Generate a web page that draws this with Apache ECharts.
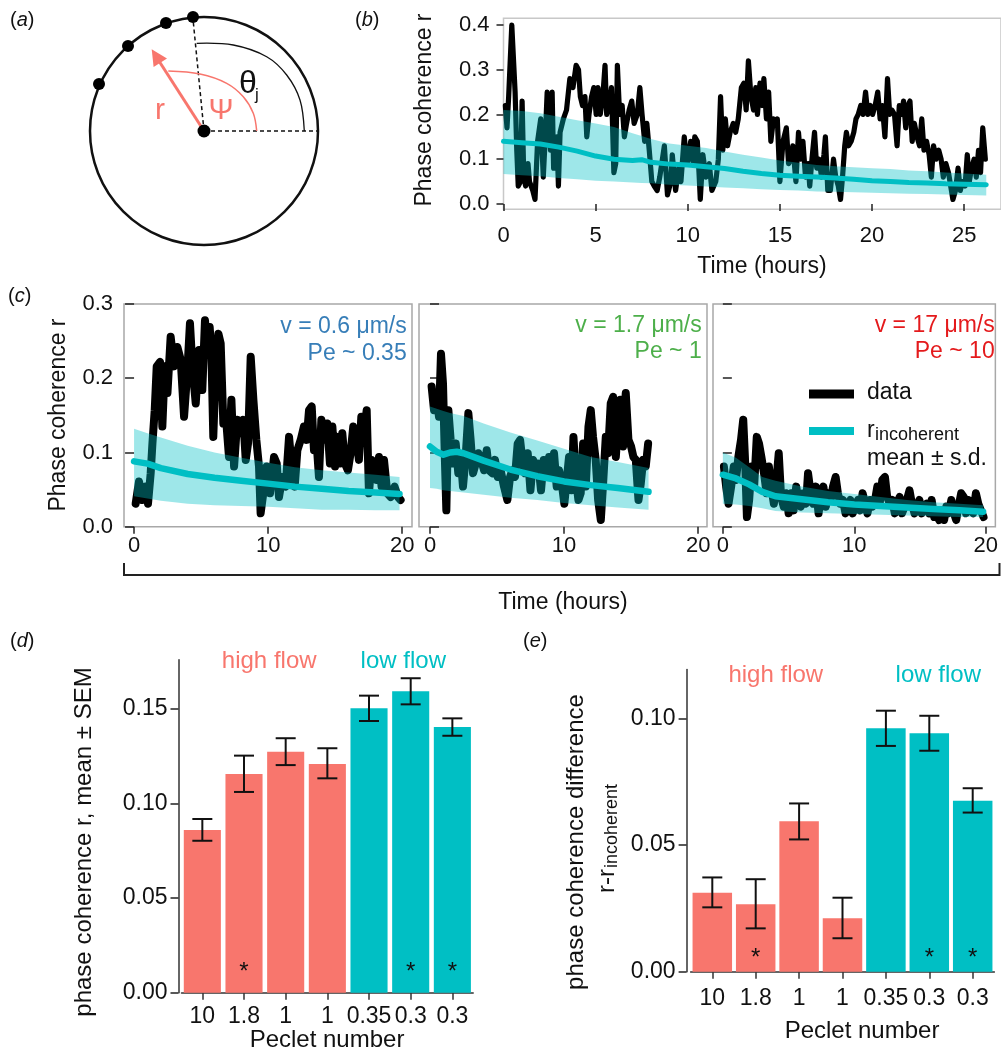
<!DOCTYPE html>
<html><head><meta charset="utf-8">
<script src="https://cdn.jsdelivr.net/npm/echarts@6/dist/echarts.min.js"></script>
<style>html,body{margin:0;padding:0;background:#fff}#c{width:1001px;height:1052px}</style>
</head><body><div id="c"></div>
<script>
// ---------- DATA ----------
// (b) phase coherence time series
const bTime = [0.10,0.19,0.28,0.45,0.63,0.72,0.80,0.92,1.01,1.10,1.20,1.33,1.41,1.59,1.71,1.85,2.02,2.16,2.29,2.37,
2.46,2.55,2.64,2.72,2.90,2.98,3.07,3.25,3.42,3.60,3.77,3.94,4.07,4.17,4.29,4.42,4.52,4.64,4.78,4.90,
5.03,5.13,5.25,5.39,5.51,5.60,5.74,5.86,5.99,6.09,6.18,6.30,6.44,6.56,6.68,6.82,6.96,7.09,7.26,7.40,
7.52,7.66,7.78,7.91,8.05,8.18,8.34,8.48,
8.73,8.90,9.08,9.16,9.34,9.51,9.63,9.81,9.95,10.03,10.16,10.30,10.38,10.52,10.61,10.68,10.82,10.99,11.17,11.31,
11.52,11.66,11.78,11.90,12.04,12.16,12.30,12.47,12.60,12.74,12.91,13.05,13.17,13.29,13.43,13.57,13.69,13.78,13.92,14.04,
14.13,14.27,14.39,14.51,14.65,14.79,14.86,15.00,15.17,15.35,15.47,15.61,15.70,15.87,16.01,16.13,16.25,16.39,16.53,16.62,
16.74,16.88,17.00,17.13,17.26,
17.39,17.47,17.60,17.74,17.91,18.03,18.17,18.29,18.40,18.52,18.61,18.73,18.87,19.01,19.13,19.25,19.39,19.51,19.65,19.77,
19.91,20.03,20.17,20.31,20.44,20.56,20.70,20.84,20.96,21.08,21.22,21.36,21.48,21.60,21.71,21.83,21.95,22.06,22.18,22.30,
22.44,22.58,22.70,22.82,22.96,23.10,23.22,23.34,23.48,23.62,23.75,23.87,24.01,24.15,24.27,24.39,24.53,24.67,24.79,24.91,
25.05,25.17,25.28,25.40,25.54,25.66,25.78,25.89,26.01,26.15];
const bR = [0.22,0.17,0.24,0.40,0.25,0.12,0.04,0.05,0.23,0.06,0.04,0.09,0.05,0.03,0.01,0.14,0.19,0.06,0.17,0.25,
0.25,0.12,0.25,0.08,0.15,0.04,0.16,0.19,0.21,0.28,0.26,0.31,0.30,0.24,0.22,0.24,0.15,0.20,0.24,0.26,
0.20,0.26,0.20,0.24,0.31,0.20,0.22,0.26,0.07,0.09,0.31,0.20,0.22,0.15,0.18,0.21,0.23,0.18,0.20,0.26,
0.20,0.14,0.18,0.12,0.05,0.04,0.03,0.06,
0.13,0.02,0.05,0.11,0.03,0.08,0.05,0.15,0.09,0.10,0.14,0.09,0.15,0.14,0.07,0.01,0.11,0.06,0.09,0.03,
0.05,0.10,0.24,0.12,0.19,0.13,0.16,0.18,0.16,0.19,0.26,0.27,0.21,0.32,0.24,0.21,0.26,0.20,0.27,0.22,
0.28,0.19,0.25,0.14,0.19,0.18,0.19,0.05,0.14,0.17,0.09,0.10,0.13,0.05,0.16,0.10,0.14,0.06,0.09,0.04,
0.10,0.16,0.08,0.10,0.06,
0.11,0.15,0.03,0.03,0.10,0.06,0.04,0.01,0.06,0.13,0.16,0.13,0.14,0.16,0.19,0.20,0.22,0.20,0.25,0.20,
0.22,0.20,0.22,0.25,0.19,0.22,0.15,0.28,0.20,0.21,0.20,0.13,0.22,0.20,0.23,0.17,0.22,0.23,0.14,0.18,
0.15,0.13,0.19,0.12,0.14,0.11,0.06,0.13,0.10,0.12,0.10,0.06,0.09,0.07,0.04,0.01,0.03,0.08,0.03,0.05,
0.04,0.11,0.05,0.08,0.10,0.06,0.12,0.07,0.17,0.10];
// (b) r_incoherent mean and +/- s.d.
const bBandT = [0,1,2,3,4,5,6,7,7.5,8,9,10,11,12,13,14,15,16,17,18,19,20,21,22,23,24,25,26.2];
const bMean  = [0.140,0.137,0.134,0.127,0.118,0.107,0.100,0.097,0.099,0.093,0.089,0.087,0.083,0.079,0.073,0.068,0.064,0.062,0.060,0.058,0.055,0.052,0.050,0.048,0.047,0.045,0.044,0.043];
const bHi    = [0.210,0.208,0.203,0.195,0.187,0.180,0.172,0.158,0.152,0.145,0.135,0.130,0.125,0.117,0.110,0.104,0.097,0.092,0.087,0.084,0.082,0.080,0.078,0.075,0.073,0.070,0.068,0.065];
const bLo    = [0.067,0.064,0.062,0.058,0.055,0.052,0.050,0.048,0.047,0.046,0.043,0.041,0.039,0.037,0.035,0.033,0.031,0.030,0.028,0.027,0.026,0.025,0.024,0.023,0.022,0.021,0.020,0.019];

// (c) left: v = 0.6 um/s
const c1Time = [0.12,0.37,0.62,0.87,1.04,1.24,1.37,1.54,1.69,1.94,2.11,2.29,2.49,2.73,2.98,3.23,3.48,3.73,3.98,4.17,
4.35,4.60,4.85,5.09,5.29,5.47,5.64,5.77,5.91,6.09,6.29,6.46,6.66,6.83,7.08,7.26,7.46,7.70,7.95,8.15,
8.33,8.50,8.70,8.90,9.12,9.32,9.44,9.64,9.89,10.14,10.44,10.64,10.81,11.06,11.31,11.56,11.80,11.98,12.18,12.43,
12.67,12.87,13.05,13.25,13.42,13.62,13.79,13.97,14.16,14.41,14.61,14.79,14.99,15.16,15.36,15.53,15.73,15.95,16.15,16.35,
16.53,16.77,16.95,17.15,17.35,17.52,17.72,17.89,18.09,18.27,18.46,18.64,18.89,19.14,19.43,19.68,19.88];
const c1R = [0.031,0.061,0.036,0.054,0.031,0.072,0.112,0.157,0.216,0.222,0.135,0.216,0.180,0.256,0.216,0.242,0.225,0.148,0.211,0.274,
0.216,0.166,0.238,0.184,0.278,0.233,0.269,0.233,0.121,0.216,0.260,0.247,0.139,0.153,0.094,0.171,0.081,0.144,0.126,0.144,
0.090,0.112,0.229,0.171,0.117,0.081,0.018,0.045,0.081,0.045,0.094,0.085,0.040,0.067,0.054,0.121,0.072,0.054,0.103,0.117,
0.135,0.117,0.157,0.162,0.103,0.112,0.067,0.144,0.117,0.139,0.085,0.135,0.081,0.121,0.085,0.126,0.085,0.076,0.099,0.135,
0.126,0.090,0.148,0.126,0.157,0.045,0.090,0.072,0.063,0.094,0.054,0.090,0.045,0.040,0.054,0.040,0.036];
const c1BandT = [0,1,2,4,6,8,10,12,14,16,18,19.8];
const c1Mean  = [0.088,0.085,0.079,0.071,0.066,0.062,0.058,0.054,0.051,0.048,0.046,0.044];
const c1Hi    = [0.132,0.126,0.120,0.109,0.100,0.093,0.086,0.080,0.076,0.073,0.070,0.067];
const c1Lo    = [0.041,0.038,0.035,0.031,0.029,0.028,0.027,0.025,0.023,0.023,0.022,0.022];

// (c) middle: v = 1.7 um/s
const c2Time = [0.12,0.30,0.47,0.67,0.82,0.97,1.12,1.22,1.37,1.54,1.72,1.92,2.11,2.29,2.46,2.66,2.86,3.03,3.21,3.41,
3.61,3.81,4.03,4.23,4.40,4.65,4.85,5.05,5.27,5.52,5.77,5.97,6.14,6.34,6.54,6.72,6.92,7.09,7.29,7.49,
7.69,7.89,8.08,8.28,8.48,8.68,8.88,9.08,9.25,9.45,9.63,9.83,10.02,10.20,10.37,10.55,10.70,10.87,11.07,11.24,
11.42,11.62,11.82,11.99,12.16,12.36,12.54,12.74,12.91,13.11,13.28,13.48,13.66,13.86,14.03,14.20,14.40,14.60,14.80,15.00,
15.17,15.35,15.55,15.72,15.90,16.09,16.27];
const c2R = [0.189,0.157,0.180,0.148,0.233,0.193,0.085,0.022,0.157,0.117,0.085,0.112,0.072,0.094,0.054,0.094,0.153,0.117,0.072,0.085,
0.099,0.090,0.076,0.103,0.076,0.072,0.090,0.067,0.076,0.054,0.036,0.067,0.076,0.067,0.112,0.117,0.085,0.072,0.099,0.049,
0.090,0.072,0.085,0.049,0.090,0.067,0.094,0.072,0.099,0.054,0.076,0.058,0.031,0.063,0.094,0.049,0.121,0.067,0.036,0.045,
0.112,0.054,0.135,0.157,0.121,0.090,0.036,0.009,0.058,0.121,0.099,0.166,0.175,0.094,0.139,0.171,0.108,0.180,0.117,0.108,
0.094,0.090,0.036,0.058,0.090,0.081,0.112];
const c2BandT = [0,0.5,1,1.5,2,2.5,4,6,8,10,12,14,16.3];
const c2Mean  = [0.108,0.101,0.097,0.100,0.101,0.099,0.089,0.077,0.068,0.061,0.056,0.052,0.047];
const c2Hi    = [0.162,0.159,0.156,0.153,0.151,0.149,0.139,0.127,0.116,0.105,0.094,0.087,0.079];
const c2Lo    = [0.052,0.051,0.049,0.048,0.047,0.046,0.043,0.039,0.036,0.032,0.029,0.026,0.023];

// (c) right: v = 17 um/s
const c3Time = [0.08,0.25,0.43,0.63,0.83,1.00,1.18,1.38,1.55,1.70,1.83,2.00,2.18,2.38,2.58,2.75,2.93,3.13,3.33,3.50,
3.68,3.88,4.08,4.25,4.43,4.63,4.83,5.00,5.20,5.38,5.58,5.75,5.93,6.13,6.33,6.48,6.68,6.88,7.08,7.28,
7.45,7.65,7.83,8.03,8.20,8.38,8.58,8.75,8.93,9.13,9.33,9.50,9.70,9.88,10.08,10.28,10.45,10.63,10.83,11.00,
11.20,11.38,11.58,11.75,11.93,12.13,12.33,12.50,12.70,12.88,13.08,13.25,13.45,13.63,13.83,14.00,14.20,14.38,14.58,14.75,
14.95,15.13,15.33,15.50,15.70,15.88,16.08,16.25,16.45,16.63,16.83,17.00,17.18,17.38,17.58,17.75,17.93,18.13,18.33,18.50,
18.68,18.88,19.05,19.25,19.43,19.63,19.83];
const c3R = [0.081,0.054,0.031,0.054,0.081,0.063,0.094,0.117,0.144,0.085,0.013,0.036,0.081,0.054,0.121,0.112,0.094,0.072,0.045,0.081,
0.054,0.031,0.063,0.099,0.040,0.027,0.045,0.018,0.045,0.022,0.054,0.036,0.027,0.045,0.031,0.072,0.045,0.031,0.054,0.018,
0.040,0.054,0.027,0.045,0.036,0.054,0.067,0.045,0.031,0.036,0.018,0.027,0.036,0.018,0.027,0.036,0.022,0.045,0.031,0.018,
0.036,0.027,0.036,0.054,0.031,0.063,0.067,0.040,0.031,0.036,0.018,0.031,0.040,0.018,0.027,0.036,0.049,0.031,0.018,0.027,
0.036,0.018,0.027,0.031,0.018,0.036,0.013,0.018,0.009,0.022,0.009,0.027,0.018,0.036,0.018,0.009,0.027,0.045,0.040,0.018,
0.036,0.022,0.018,0.045,0.031,0.022,0.013];
const c3BandT = [0,1,2,3,4,6,8,10,12,14,16,18,19.8];
const c3Mean  = [0.070,0.065,0.057,0.047,0.041,0.037,0.033,0.030,0.028,0.026,0.024,0.022,0.020];
const c3Hi    = [0.100,0.093,0.080,0.067,0.062,0.054,0.048,0.044,0.040,0.036,0.033,0.031,0.029];
const c3Lo    = [0.031,0.030,0.028,0.025,0.021,0.019,0.018,0.017,0.016,0.015,0.014,0.013,0.013];

// (d),(e) bar charts
const peclet = ['10','1.8','1','1','0.35','0.3','0.3'];
const flow   = ['high','high','high','high','low','low','low'];
const dMean = [0.0860,0.1156,0.1274,0.1209,0.1503,0.1593,0.1404];
const dLo   = [0.0803,0.1061,0.1203,0.1133,0.1436,0.1524,0.1358];
const dHi   = [0.0918,0.1253,0.1345,0.1292,0.1570,0.1662,0.1450];
const eMean = [0.0312,0.0266,0.0594,0.0211,0.0961,0.0941,0.0675];
const eLo   = [0.0254,0.0171,0.0522,0.0132,0.0891,0.0872,0.0628];
const eHi   = [0.0372,0.0365,0.0664,0.0292,0.1030,0.1010,0.0724];
const starIdx = [1,5,6];
const dStarY = 0.0134, eStarY = 0.0073;

// tick labels
const bXTicks = [0,5,10,15,20,25];
const bYTicks = [0,0.1,0.2,0.3,0.4];
const cXTicks = [0,10,20];
const cYTicks = [0,0.1,0.2,0.3];
const dYTicks = [0,0.05,0.10,0.15];
const eYTicks = [0,0.05,0.10];

// ---------- STYLE ----------
const FONT = 'Liberation Sans, Arial, Helvetica, sans-serif';
const SALMON = '#F8766D', TEAL = '#00BFC4', BAND = 'rgba(0,191,196,0.38)';
const INK = '#111';
const flowColor = f => f === 'high' ? SALMON : TEAL;

const chart = echarts.init(document.getElementById('c'), null, {renderer:'canvas', width:1001, height:1052});

function pairs(t, v){ return t.map((x,i)=>[x, v[i]]); }
function dataLine(gi, t, v, w){
  return {type:'line', xAxisIndex:gi, yAxisIndex:gi, data:pairs(t,v), symbol:'none', silent:true, z:2,
    lineStyle:{color:'#000', width:w, join:'round', cap:'round'}};
}
// mean +/- s.d. band as one polygon through the axis scales
function band(gi, t, lo, hi){
  return {type:'custom', xAxisIndex:gi, yAxisIndex:gi, silent:true, z:3, clip:true,
    data: t.map((x,i)=>[x, lo[i], hi[i]]), encode:{x:0, y:[1,2]},
    renderItem:(p, api)=>{
      if (p.dataIndex !== 0) return null;
      const top = t.map((x,i)=>api.coord([x, hi[i]]));
      const bot = t.map((x,i)=>api.coord([x, lo[i]])).reverse();
      return {type:'polygon', shape:{points: top.concat(bot)}, style:{fill:BAND}};
    }};
}
function meanLine(gi, t, m, w){
  return {type:'line', xAxisIndex:gi, yAxisIndex:gi, data:pairs(t,m), symbol:'none', silent:true, z:4,
    lineStyle:{color:TEAL, width:w, join:'round', cap:'round'}};
}
function errBars(gi, lo, hi){
  return {type:'custom', xAxisIndex:gi, yAxisIndex:gi, silent:true, z:5,
    data: lo.map((v,i)=>[i, v, hi[i]]), encode:{x:0, y:[1,2]},
    renderItem:(p, api)=>{
      const a = api.coord([api.value(0), api.value(1)]);
      const b = api.coord([api.value(0), api.value(2)]);
      const hw = 10, st = {stroke:INK, lineWidth:2};
      return {type:'group', children:[
        {type:'line', shape:{x1:a[0], y1:a[1], x2:b[0], y2:b[1]}, style:st},
        {type:'line', shape:{x1:a[0]-hw, y1:a[1], x2:a[0]+hw, y2:a[1]}, style:st},
        {type:'line', shape:{x1:b[0]-hw, y1:b[1], x2:b[0]+hw, y2:b[1]}, style:st}
      ]};
    }};
}
function stars(gi, yv){
  return {type:'custom', xAxisIndex:gi, yAxisIndex:gi, silent:true, z:6,
    data: starIdx.map(i=>[i, yv]), encode:{x:0, y:1},
    renderItem:(p, api)=>{
      const c = api.coord([api.value(0), api.value(1)]);
      return {type:'text', x:c[0], y:c[1]+5, style:{text:'*', fontSize:24, fontFamily:FONT, fill:INK, align:'center', verticalAlign:'middle'}};
    }};
}
function bars(gi, vals, gap){
  return {type:'bar', xAxisIndex:gi, yAxisIndex:gi, silent:true, z:2, barCategoryGap:gap,
    data: vals.map((v,i)=>({value:v, itemStyle:{color:flowColor(flow[i])}}))};
}

function valX(gi, min, max, ticks, margin){
  return {type:'value', gridIndex:gi, min, max, splitLine:{show:false}, axisLine:{show:false},
    axisTick:{show:true, length:7, lineStyle:{color:'#222', width:1.5}, customValues:ticks},
    axisLabel:{customValues:ticks, fontSize:22, color:INK, fontFamily:FONT, margin}};
}
function valY(gi, min, max, ticks, opts){
  const o = Object.assign({label:true, inside:false, len:7, margin:12, fs:22, dec:1, line:false, offset:0}, opts||{});
  return {type:'value', gridIndex:gi, min, max, offset:o.offset, splitLine:{show:false},
    axisLine:{show:o.line, lineStyle:{color:'#333', width:1.5}},
    axisTick:{show:true, inside:o.inside, length:o.len, lineStyle:{color:'#222', width:1.5}, customValues:ticks},
    axisLabel:{show:o.label, customValues:ticks, fontSize:o.fs, color:INK, fontFamily:FONT, margin:o.margin,
      formatter:v=>Number(v).toFixed(o.dec)}};
}
function catX(gi, margin){
  return {type:'category', gridIndex:gi, data:peclet,
    axisLine:{show:true, lineStyle:{color:'#333', width:1.5}},
    axisTick:{show:true, alignWithLabel:true, length:7, lineStyle:{color:'#333', width:1.5}},
    axisLabel:{fontSize:23, color:INK, fontFamily:FONT, margin, interval:0}};
}

const boxB = {show:true, borderColor:'#c8c8c8', borderWidth:1.5, backgroundColor:'transparent'};
const boxC = {show:true, borderColor:'#a8a8a8', borderWidth:1.5, backgroundColor:'transparent'};

// ---------- GRAPHIC (panel a schematic, annotations, titles) ----------
function txt(x, y, text, o){
  o = o || {};
  return {type:'text', x, y, rotation:o.rot||0, silent:true, z:100,
    style:Object.assign({text, fontSize:o.fs||22, fontFamily:FONT, fill:o.color||INK, align:o.align||'center', verticalAlign:'middle'}, o.extra||{})};
}
function panelLabel(x, y, letter){
  return {type:'text', x, y, silent:true, z:100,
    style:{text:'({i|'+letter+'})', fontSize:20, fontFamily:FONT, fill:INK, align:'left', verticalAlign:'middle',
      rich:{i:{fontStyle:'italic', fontSize:20, fontFamily:FONT, fill:INK}}}};
}
const ROT = Math.PI/2;
const graphics = [
  panelLabel(10,20,'a'), panelLabel(355,20,'b'), panelLabel(8,296,'c'), panelLabel(10,641,'d'), panelLabel(523,641,'e'),
  // panel (a)
  {type:'circle', silent:true, shape:{cx:204, cy:131, r:114}, style:{fill:'none', stroke:INK, lineWidth:2.5}},
  {type:'line', silent:true, shape:{x1:204, y1:131, x2:318, y2:131}, style:{stroke:INK, lineWidth:1.5, lineDash:[4,3]}},
  {type:'line', silent:true, shape:{x1:204, y1:131, x2:193, y2:19}, style:{stroke:INK, lineWidth:1.5, lineDash:[4,3]}},
  {type:'polyline', silent:true, shape:{points:[[196.7,43.3],[233.3,45],[266.7,56.7],[286.7,75],[300,100],[304.3,131]], smooth:0.35},
    style:{stroke:INK, lineWidth:1.3, fill:null}},
  {type:'polyline', silent:true, shape:{points:[[168.3,71],[200,74],[226.7,83.3],[243.3,96.7],[253.3,113.3],[256.7,131]], smooth:0.35},
    style:{stroke:SALMON, lineWidth:1.5, fill:null}},
  {type:'line', silent:true, shape:{x1:204, y1:131, x2:159, y2:61}, style:{stroke:SALMON, lineWidth:3}},
  {type:'polygon', silent:true, shape:{points:[[151.7,49.3],[167.0,58.5],[153.6,67.1]]}, style:{fill:SALMON}},
  {type:'circle', silent:true, shape:{cx:204, cy:131, r:6.5}, style:{fill:'#000'}},
  {type:'circle', silent:true, shape:{cx:193, cy:17, r:6}, style:{fill:'#000'}},
  {type:'circle', silent:true, shape:{cx:166, cy:23, r:6}, style:{fill:'#000'}},
  {type:'circle', silent:true, shape:{cx:128, cy:46, r:6}, style:{fill:'#000'}},
  {type:'circle', silent:true, shape:{cx:99, cy:84, r:6}, style:{fill:'#000'}},
  txt(160, 111, 'r', {fs:30, color:SALMON}),
  txt(221, 111, 'Ψ', {fs:30, color:SALMON}),
  txt(248, 84, 'θ', {fs:32}),
  txt(257, 95, 'j', {fs:17}),
  // panel (b) titles
  txt(425, 110, 'Phase coherence r', {fs:23, rot:ROT}),
  txt(762, 267, 'Time (hours)', {fs:23}),
  // panel (c) titles & annotations
  txt(59, 415, 'Phase coherence r', {fs:23, rot:ROT}),
  txt(563, 603, 'Time (hours)', {fs:23}),
  {type:'polyline', silent:true, shape:{points:[[124,563],[124,575],[999.5,575],[999.5,563]]}, style:{stroke:'#222', lineWidth:2, fill:null}},
  txt(406.7, 327, 'v = 0.6 μm/s', {fs:23, color:'#377EB8', align:'right'}),
  txt(406.7, 354, 'Pe ~ 0.35', {fs:23, color:'#377EB8', align:'right'}),
  txt(701.7, 326, 'v = 1.7 μm/s', {fs:23, color:'#4DAF4A', align:'right'}),
  txt(701.7, 352, 'Pe ~ 1', {fs:23, color:'#4DAF4A', align:'right'}),
  txt(994.7, 326, 'v = 17 μm/s', {fs:23, color:'#E41A1C', align:'right'}),
  txt(994.7, 352, 'Pe ~ 10', {fs:23, color:'#E41A1C', align:'right'}),
  {type:'line', silent:true, shape:{x1:809, y1:394, x2:854, y2:394}, style:{stroke:'#000', lineWidth:9}},
  {type:'line', silent:true, shape:{x1:809, y1:431, x2:854, y2:431}, style:{stroke:TEAL, lineWidth:8}},
  txt(867, 392.5, 'data', {fs:23, align:'left'}),
  txt(867, 431, 'r', {fs:23, align:'left'}),
  txt(875, 435.5, 'incoherent', {fs:18, align:'left'}),
  txt(867, 459, 'mean ± s.d.', {fs:23, align:'left'}),
  // panel (d)
  txt(84, 842, 'phase coherence r, mean ± SEM', {fs:24, rot:ROT}),
  txt(327, 1040, 'Peclet number', {fs:24}),
  txt(269.2, 661, 'high flow', {fs:24, color:SALMON}),
  txt(403.3, 661, 'low flow', {fs:24, color:TEAL}),
  // panel (e)
  txt(576.7, 842, 'phase coherence difference', {fs:24, rot:ROT}),
  txt(607, 881, 'r-r', {fs:24, rot:ROT}),
  txt(612, 826, 'incoherent', {fs:18, rot:ROT}),
  txt(862, 1031, 'Peclet number', {fs:24}),
  txt(775.8, 675, 'high flow', {fs:24, color:SALMON}),
  txt(938.3, 675, 'low flow', {fs:24, color:TEAL})
];

const option = {
  backgroundColor:'#fff',
  animation:false,
  textStyle:{fontFamily:FONT},
  grid:[
    Object.assign({left:503.5, top:18.3, width:515.7, height:191}, boxB),
    Object.assign({left:124, top:304, width:288, height:222.7}, boxC),
    Object.assign({left:419, top:304, width:288, height:222.7}, boxC),
    Object.assign({left:713, top:304, width:288, height:222.7}, boxC),
    {left:181.5, top:659.7, width:291.7, height:333, show:false},
    {left:690.6, top:669.4, width:303.8, height:302.3, show:false}
  ],
  xAxis:[
    valX(0, 0, 27, bXTicks, 16),
    valX(1, -0.75, 20.73, cXTicks, 8),
    valX(2, -0.82, 20.66, cXTicks, 8),
    valX(3, -0.75, 20.73, cXTicks, 8),
    catX(4, 12),
    catX(5, 15)
  ],
  yAxis:[
    valY(0, -0.012, 0.415, bYTicks, {len:7, margin:14}),
    valY(1, 0, 0.3, cYTicks, {len:9, margin:11}),
    valY(2, 0, 0.3, cYTicks, {label:false, inside:true, len:9}),
    valY(3, 0, 0.3, cYTicks, {label:false, inside:true, len:9}),
    valY(4, 0, 0.176, dYTicks, {len:8, margin:11, fs:23, dec:2, line:true, offset:3}),
    valY(5, 0, 0.1193, eYTicks, {len:8, margin:11, fs:23, dec:2, line:true, offset:4})
  ],
  series:[
    dataLine(0, bTime, bR, 5.2), band(0, bBandT, bLo, bHi), meanLine(0, bBandT, bMean, 5),
    dataLine(1, c1Time, c1R, 8), band(1, c1BandT, c1Lo, c1Hi), meanLine(1, c1BandT, c1Mean, 6.5),
    dataLine(2, c2Time, c2R, 8), band(2, c2BandT, c2Lo, c2Hi), meanLine(2, c2BandT, c2Mean, 6.5),
    dataLine(3, c3Time, c3R, 8), band(3, c3BandT, c3Lo, c3Hi), meanLine(3, c3BandT, c3Mean, 6.5),
    bars(4, dMean, '11%'), errBars(4, dLo, dHi), stars(4, dStarY),
    bars(5, eMean, '9%'), errBars(5, eLo, eHi), stars(5, eStarY)
  ],
  graphic:{elements:graphics}
};
chart.setOption(option);
</script>
</body></html>
